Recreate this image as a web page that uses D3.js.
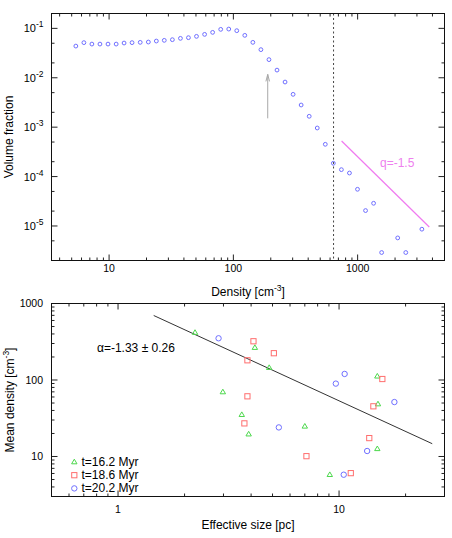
<!DOCTYPE html>
<html>
<head>
<meta charset="utf-8">
<script src="https://cdn.jsdelivr.net/npm/d3@7"></script>
<style>
body { margin: 0; background: #fff; }
svg { display: block; font-family: "Liberation Sans", Arial, sans-serif; }
</style>
</head>
<body>
<div id="chart"></div>
<script>
// top panel: volume fraction per density bin (null = empty bin)
const densityBins = [5.40, 6.27, 7.27, 8.44, 9.80, 11.4, 13.2, 15.3, 17.8, 20.7, 24.0, 27.8, 32.3, 37.5, 43.5,
  50.5, 58.7, 68.1, 79.1, 91.8, 106.5, 123.6, 143.5, 166.6, 193.4, 224.5, 260.6, 302.5, 351.1, 407.6,
  473.2, 549.3, 637.6, 740.2, 859.2, 997.3, 1158, 1344, 1560, 1810, 2101, 2440, 2832, 3288];
const volumeFraction = [0.0438, 0.0514, 0.0481, 0.0481, 0.0481, 0.0481, 0.0505, 0.0514, 0.0521, 0.0529, 0.0554,
  0.0572, 0.0590, 0.0628, 0.0648, 0.0689, 0.0756, 0.0830, 0.0955, 0.0968, 0.0898, 0.0722, 0.0521, 0.0371,
  0.0233, 0.0143, 0.0082, 0.00462, 0.00281, 0.00166, 0.000962, 0.00045, 0.000186, 0.000138, 0.000118,
  5.53e-5, 2.05e-5, 2.88e-5, 2.9e-6, null, 5.73e-6, 2.9e-6, null, 8.61e-6];
const densTicks = [10, 100, 1000];
const fracExps = [-1, -2, -3, -4, -5];
const threshold = 640;                      // dashed line
const arrowX = 189, arrowY = [0.00151, 0.0117];
const slopeX = [743, 3770], slopeY = [5.25e-4, 9.55e-6];

// bottom panel: clumps at three times
const size162 = [2.23, 4.16, 4.83, 14.9, 2.98, 15.0, 3.63, 3.90, 7.00, 14.9, 9.08];
const dens162 = [417, 265, 145, 112, 69.7, 48.5, 35.2, 19.6, 24.8, 12.6, 5.78];
const size186 = [4.10, 5.07, 3.85, 15.7, 3.85, 14.3, 3.73, 13.7, 7.12, 11.3];
const dens186 = [321, 224, 181, 103, 61.2, 45.3, 27.1, 17.4, 10.1, 6.06];
const size202 = [2.85, 9.67, 10.6, 17.8, 5.34, 13.4, 10.5];
const dens202 = [351, 89.7, 120, 51.5, 24.0, 11.8, 5.78];
const fitSize = [1.45, 26.4], fitDens = [697, 14.7];
const sizeTicks = [1, 10];
const meanTicks = [10, 100, 1000];

const W = 452, H = 538;
const svg = d3.select("#chart").append("svg").attr("width", W).attr("height", H);

const blue = "#6f6fff", green = "#4cd84c", red = "#ff6e6e";

function minorTicks(domain, mults) {
  let out = [];
  let lo = Math.floor(Math.log10(domain[0])), hi = Math.ceil(Math.log10(domain[1]));
  for (let e = lo; e <= hi; e++) {
    mults.forEach(m => {
      let v = m * Math.pow(10, e);
      if (v >= domain[0] && v <= domain[1]) out.push(v);
    });
  }
  return out;
}

// draws border with inward ticks on all four sides
function frame(x, y, xMinor, yMinor) {
  let [l, r] = x.range(), [b, t] = y.range();
  let g = svg.append("g");
  let xMajor = minorTicks(x.domain(), [1]), yMajor = minorTicks(y.domain(), [1]);
  let xm = minorTicks(x.domain(), xMinor), ym = minorTicks(y.domain(), yMinor);
  let segs = [];
  xm.forEach(v => segs.push([x(v), 3]));
  xMajor.forEach(v => segs.push([x(v), 6]));
  segs.forEach(s => {
    g.append("line").attr("x1", s[0]).attr("x2", s[0]).attr("y1", b).attr("y2", b - s[1]);
    g.append("line").attr("x1", s[0]).attr("x2", s[0]).attr("y1", t).attr("y2", t + s[1]);
  });
  segs = [];
  ym.forEach(v => segs.push([y(v), 3]));
  yMajor.forEach(v => segs.push([y(v), 6]));
  segs.forEach(s => {
    g.append("line").attr("y1", s[0]).attr("y2", s[0]).attr("x1", l).attr("x2", l + s[1]);
    g.append("line").attr("y1", s[0]).attr("y2", s[0]).attr("x1", r).attr("x2", r - s[1]);
  });
  g.selectAll("line").attr("stroke", "#222").attr("stroke-width", 1);
  g.append("rect").attr("x", l).attr("y", t).attr("width", r - l).attr("height", b - t)
    .attr("fill", "none").attr("stroke", "#111").attr("stroke-width", 1);
}

// ---------- top panel ----------
let x1 = d3.scaleLog().domain([3.44, 5000]).range([51.5, 444.5]);
let y1 = d3.scaleLog().domain([2e-6, 0.2]).range([260.5, 13.5]);

let topPts = densityBins.map((d, i) => ({ d: d, v: volumeFraction[i] })).filter(p => p.v != null);

svg.append("line")
  .attr("x1", x1(threshold)).attr("x2", x1(threshold))
  .attr("y1", y1.range()[1]).attr("y2", y1.range()[0])
  .attr("stroke", "#444").attr("stroke-width", 1).attr("stroke-dasharray", "2,2.5");

svg.append("line")
  .attr("x1", x1(slopeX[0])).attr("y1", y1(slopeY[0]))
  .attr("x2", x1(slopeX[1])).attr("y2", y1(slopeY[1]))
  .attr("stroke", "#f07af0").attr("stroke-width", 1.2);
svg.append("text").attr("x", 380).attr("y", 166.5).attr("font-size", 12).attr("fill", "#ee80ee").text("q=-1.5");

// arrow
let ax = x1(arrowX), ay0 = y1(arrowY[0]), ay1 = y1(arrowY[1]);
svg.append("path")
  .attr("d", `M${ax},${ay0}L${ax},${ay1}M${ax - 1.8},${ay1 + 7}L${ax},${ay1}L${ax + 1.8},${ay1 + 7}`)
  .attr("fill", "none").attr("stroke", "#a8a8a8").attr("stroke-width", 1);

svg.append("g").selectAll("circle").data(topPts).enter().append("circle")
  .attr("cx", p => x1(p.d)).attr("cy", p => y1(p.v)).attr("r", 1.9)
  .attr("fill", "none").attr("stroke", blue).attr("stroke-width", 1);

frame(x1, y1, [2, 3, 4, 5, 6, 7, 8, 9], [2, 5]);

svg.append("g").selectAll("text").data(densTicks).enter().append("text")
  .attr("x", d => x1(d)).attr("y", 272).attr("text-anchor", "middle").attr("font-size", 10.5)
  .text(d => d);

let yl = svg.append("g").selectAll("text").data(fracExps).enter().append("text")
  .attr("x", 43.5).attr("y", e => y1(Math.pow(10, e)) + 4).attr("text-anchor", "end").attr("font-size", 11);
yl.append("tspan").text("10");
yl.append("tspan").attr("dy", -5).attr("font-size", 8.5).text(e => e);

let dl = svg.append("text").attr("x", 248).attr("y", 296).attr("text-anchor", "middle").attr("font-size", 12);
dl.append("tspan").text("Density [cm");
dl.append("tspan").attr("dy", -5).attr("font-size", 8.5).text("-3");
dl.append("tspan").attr("dy", 5).text("]");

svg.append("text").attr("transform", "translate(13,137) rotate(-90)").attr("text-anchor", "middle")
  .attr("font-size", 12).text("Volume fraction");

// ---------- bottom panel ----------
let x2 = d3.scaleLog().domain([0.5, 30]).range([51.5, 444.5]);
let y2 = d3.scaleLog().domain([3, 1000]).range([496.5, 303.5]);

svg.append("line")
  .attr("x1", x2(fitSize[0])).attr("y1", y2(fitDens[0]))
  .attr("x2", x2(fitSize[1])).attr("y2", y2(fitDens[1]))
  .attr("stroke", "#333").attr("stroke-width", 1);

const tri = "M0,-2.8L2.7,1.8L-2.7,1.8Z";
function drawSet(xs, ys, kind, color) {
  let g = svg.append("g").attr("fill", "none").attr("stroke", color).attr("stroke-width", 1);
  xs.forEach((s, i) => {
    let px = x2(s), py = y2(ys[i]);
    if (kind == "tri") g.append("path").attr("d", tri).attr("transform", `translate(${px},${py})`);
    else if (kind == "sq") g.append("rect").attr("x", px - 2.6).attr("y", py - 2.6).attr("width", 5.2).attr("height", 5.2);
    else g.append("circle").attr("cx", px).attr("cy", py).attr("r", 2.7);
  });
}
drawSet(size162, dens162, "tri", green);
drawSet(size186, dens186, "sq", red);
drawSet(size202, dens202, "circ", blue);

frame(x2, y2, [2, 3, 4, 5, 6, 7, 8, 9], [2, 3, 4, 5, 6, 7, 8, 9]);

svg.append("g").selectAll("text").data(sizeTicks).enter().append("text")
  .attr("x", d => x2(d)).attr("y", 512.5).attr("text-anchor", "middle").attr("font-size", 10.5)
  .text(d => d);
svg.append("g").selectAll("text").data(meanTicks).enter().append("text")
  .attr("x", 43).attr("y", d => y2(d) + 3.8).attr("text-anchor", "end").attr("font-size", 10.5)
  .text(d => d);

svg.append("text").attr("x", 248).attr("y", 529).attr("text-anchor", "middle").attr("font-size", 12)
  .text("Effective size [pc]");
let ml = svg.append("text").attr("transform", "translate(14,400) rotate(-90)").attr("text-anchor", "middle")
  .attr("font-size", 12);
ml.append("tspan").text("Mean density [cm");
ml.append("tspan").attr("dy", -5).attr("font-size", 8.5).text("-3");
ml.append("tspan").attr("dy", 5).text("]");

let al = svg.append("text").attr("x", 97).attr("y", 352).attr("font-size", 12);
al.append("tspan").text("\u03b1=-1.33 \u00b1 0.26");

// legend
const legendLabels = ["t=16.2 Myr", "t=18.6 Myr", "t=20.2 Myr"];
const legendKinds = [["tri", green], ["sq", red], ["circ", blue]];
legendLabels.forEach((lab, i) => {
  let ly = 462 + i * 13.2;
  let g = svg.append("g").attr("fill", "none").attr("stroke", legendKinds[i][1]);
  if (legendKinds[i][0] == "tri") g.append("path").attr("d", tri).attr("transform", `translate(74.3,${ly})`);
  else if (legendKinds[i][0] == "sq") g.append("rect").attr("x", 71.7).attr("y", ly - 2.6).attr("width", 5.2).attr("height", 5.2);
  else g.append("circle").attr("cx", 74.3).attr("cy", ly).attr("r", 2.7);
  svg.append("text").attr("x", 81.5).attr("y", ly + 4).attr("font-size", 12).text(lab);
});
</script>
</body>
</html>
